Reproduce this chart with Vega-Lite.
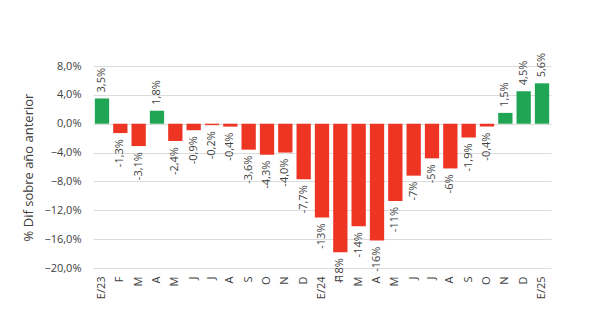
{
  "$schema": "https://vega.github.io/schema/vega-lite/v6.json",
  "autosize": {"type": "none"},
  "padding": {"left": 93, "top": 66, "right": 53, "bottom": 57},
  "width": 458,
  "height": 202,
  "background": "white",
  "data": {"values": [
    {"mes": "E/23", "v": 3.5, "lbl": "3,5%"},
    {"mes": "F-23", "v": -1.3, "lbl": "-1,3%"},
    {"mes": "M-23a", "v": -3.1, "lbl": "-3,1%"},
    {"mes": "A-23a", "v": 1.8, "lbl": "1,8%"},
    {"mes": "M-23b", "v": -2.4, "lbl": "-2,4%"},
    {"mes": "J-23a", "v": -0.9, "lbl": "-0,9%"},
    {"mes": "J-23b", "v": -0.2, "lbl": "-0,2%"},
    {"mes": "A-23b", "v": -0.4, "lbl": "-0,4%"},
    {"mes": "S-23", "v": -3.6, "lbl": "-3,6%"},
    {"mes": "O-23", "v": -4.3, "lbl": "-4,3%"},
    {"mes": "N-23", "v": -4.0, "lbl": "-4,0%"},
    {"mes": "D-23", "v": -7.7, "lbl": "-7,7%"},
    {"mes": "E/24", "v": -13, "lbl": "-13%"},
    {"mes": "F-24", "v": -17.8, "lbl": "-18%"},
    {"mes": "M-24a", "v": -14.2, "lbl": "-14%"},
    {"mes": "A-24a", "v": -16.2, "lbl": "-16%"},
    {"mes": "M-24b", "v": -10.7, "lbl": "-11%"},
    {"mes": "J-24a", "v": -7.2, "lbl": "-7%"},
    {"mes": "J-24b", "v": -4.8, "lbl": "-5%"},
    {"mes": "A-24b", "v": -6.2, "lbl": "-6%"},
    {"mes": "S-24", "v": -1.9, "lbl": "-1,9%"},
    {"mes": "O-24", "v": -0.4, "lbl": "-0,4%"},
    {"mes": "N-24", "v": 1.5, "lbl": "1,5%"},
    {"mes": "D-24", "v": 4.5, "lbl": "4,5%"},
    {"mes": "E/25", "v": 5.6, "lbl": "5,6%"}
  ]},
  "encoding": {
    "x": {
      "field": "mes", "type": "nominal", "sort": null,
      "scale": {"paddingInner": 0.22, "paddingOuter": 0.1},
      "axis": {
        "title": null, "labelAngle": -90, "labelAlign": "right", "labelBaseline": "middle",
        "labelExpr": "split(datum.value, '-')[0]",
        "domain": false, "ticks": false, "labelPadding": 8,
        "labelFont": "Open Sans", "labelFontSize": 11, "labelColor": "#404040"
      }
    },
    "y": {
      "field": "v", "type": "quantitative",
      "scale": {"domain": [-20, 8], "nice": false, "zero": false},
      "axis": {
        "title": "% Dif sobre año anterior", "values": [-20, -16, -12, -8, -4, 0, 4, 8],
        "labelExpr": "replace(format(datum.value, '.1f'), '.', ',') + '%'",
        "domain": false, "ticks": false, "labelPadding": 12,
        "gridColor": "#dcdcdc", "gridWidth": 1,
        "labelFont": "Open Sans", "labelFontSize": 11, "labelColor": "#404040",
        "titleFont": "Open Sans", "titleFontSize": 13, "titleFontWeight": "normal",
        "titleColor": "#404040", "titlePadding": 8
      }
    }
  },
  "layer": [
    {
      "mark": {"type": "bar"},
      "encoding": {
        "y2": {"datum": 0},
        "color": {
          "condition": {"test": "datum.v >= 0", "value": "#1fa554"},
          "value": "#ee3524"
        }
      }
    },
    {
      "transform": [{"filter": "datum.v >= 0"}],
      "mark": {"type": "text", "angle": -90, "align": "left", "baseline": "middle", "dx": 6, "font": "Open Sans", "fontSize": 11, "color": "#404040"},
      "encoding": {"text": {"field": "lbl"}}
    },
    {
      "transform": [{"filter": "datum.v < 0"}],
      "mark": {"type": "text", "angle": -90, "align": "right", "baseline": "middle", "dx": -6, "font": "Open Sans", "fontSize": 11, "color": "#404040"},
      "encoding": {"text": {"field": "lbl"}}
    }
  ],
  "config": {"view": {"stroke": null}}
}
